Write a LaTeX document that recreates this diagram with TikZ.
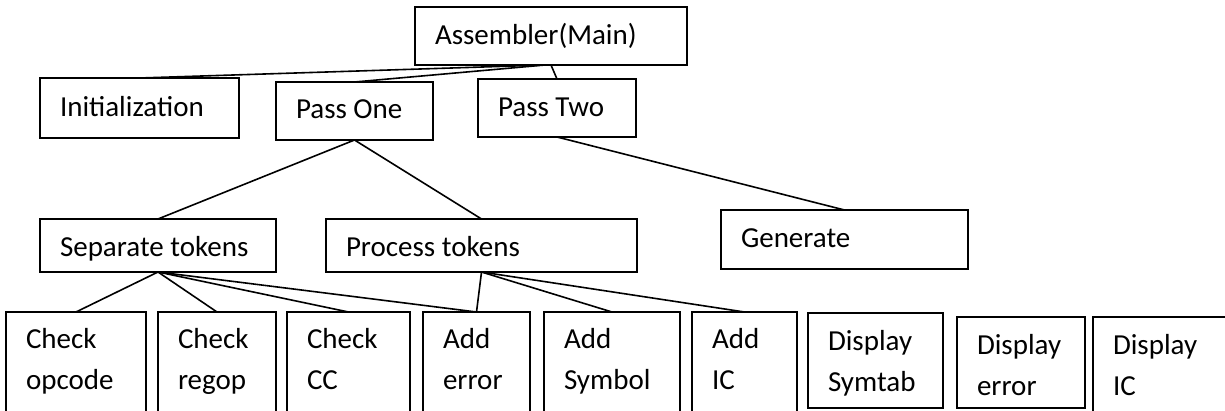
\documentclass[tikz,border=0pt]{standalone}
\usepackage{fontspec}
\setmainfont{Carlito}
\usetikzlibrary{calc}
\tikzset{
  bx/.style={draw=black, line width=1pt, fill=white, rectangle, inner sep=0pt, outer sep=0pt, anchor=north west},
  tx/.style={anchor=north west, inner sep=0pt, outer sep=0pt, align=left, font=\fontsize{14.5}{20.5}\selectfont},
  cn/.style={draw=black, line width=0.8pt}
}
% name, x1, y1, x2, y2, first baseline y, text
\newcommand\tbx[7]{%
  \node[bx, minimum width={(#4-#2)*0.5pt}, minimum height={(#5-#3)*0.5pt}] (#1) at (#2,#3) {};
  \node[tx] (#1t) at (#2+20, #6-28.7) {#7};
}
\begin{document}
\begin{tikzpicture}[x=0.5pt, y=-0.5pt]
\fill[white] (0,0) rectangle (1225,411);
\useasboundingbox (0,0) rectangle (1225,411);
\clip (0,0) rectangle (1225,411);

\tbx{asm}{415}{7}{687}{65}{45}{\strut Assembler(Main)}
\tbx{init}{40}{78}{239}{138}{117}{\strut Initialization}
\tbx{p1}{276}{82}{433}{140}{119}{\strut Pass One}
\tbx{p2}{478}{79}{636}{137}{117}{\strut Pass Two}
\tbx{sep}{40}{219}{276}{272}{257}{\strut Separate tokens}
\tbx{proc}{326}{219}{637}{272}{257}{\strut Process tokens}
\tbx{gen}{721}{210}{968}{269}{248}{\strut Generate}

\tbx{copc}{6}{312}{146}{425}{348}{\strut Check\\\strut opcode}
\tbx{creg}{158}{312}{276}{425}{348}{\strut Check\\\strut regop}
\tbx{ccc}{287}{312}{410}{425}{348}{\strut Check\\\strut CC}
\tbx{aerr}{423}{312}{530}{425}{348}{\strut Add\\\strut error}
\tbx{asym}{544}{312}{680}{425}{348}{\strut Add\\\strut Symbol}
\tbx{aic}{692}{312}{797}{425}{348}{\strut Add\\\strut IC}
\tbx{dsym}{808}{313}{943}{408}{350}{\strut Display\\\strut Symtab}
\tbx{derr}{957}{317}{1085}{408}{354}{\strut Display\\\strut error}
\tbx{dic}{1093}{317}{1245}{425}{354}{\strut Display\\\strut IC}

\draw[cn] ([xshift=-3pt]asm.south) -- (init.north);
\draw[cn] ([xshift=-3pt]asm.south) -- (p1.north);
\draw[cn] (asm.south) -- (p2.north);
\draw[cn] (p1.south) -- (sep.north);
\draw[cn] (p1.south) -- (proc.north);
\draw[cn] (p2.south) -- (gen.north);
\draw[cn] (sep.south) -- (copc.north);
\draw[cn] (sep.south) -- (creg.north);
\draw[cn] (sep.south) -- (ccc.north);
\draw[cn] (sep.south) -- (aerr.north);
\draw[cn] (proc.south) -- (aerr.north);
\draw[cn] (proc.south) -- (asym.north);
\draw[cn] (proc.south) -- (aic.north);
\end{tikzpicture}
\end{document}
